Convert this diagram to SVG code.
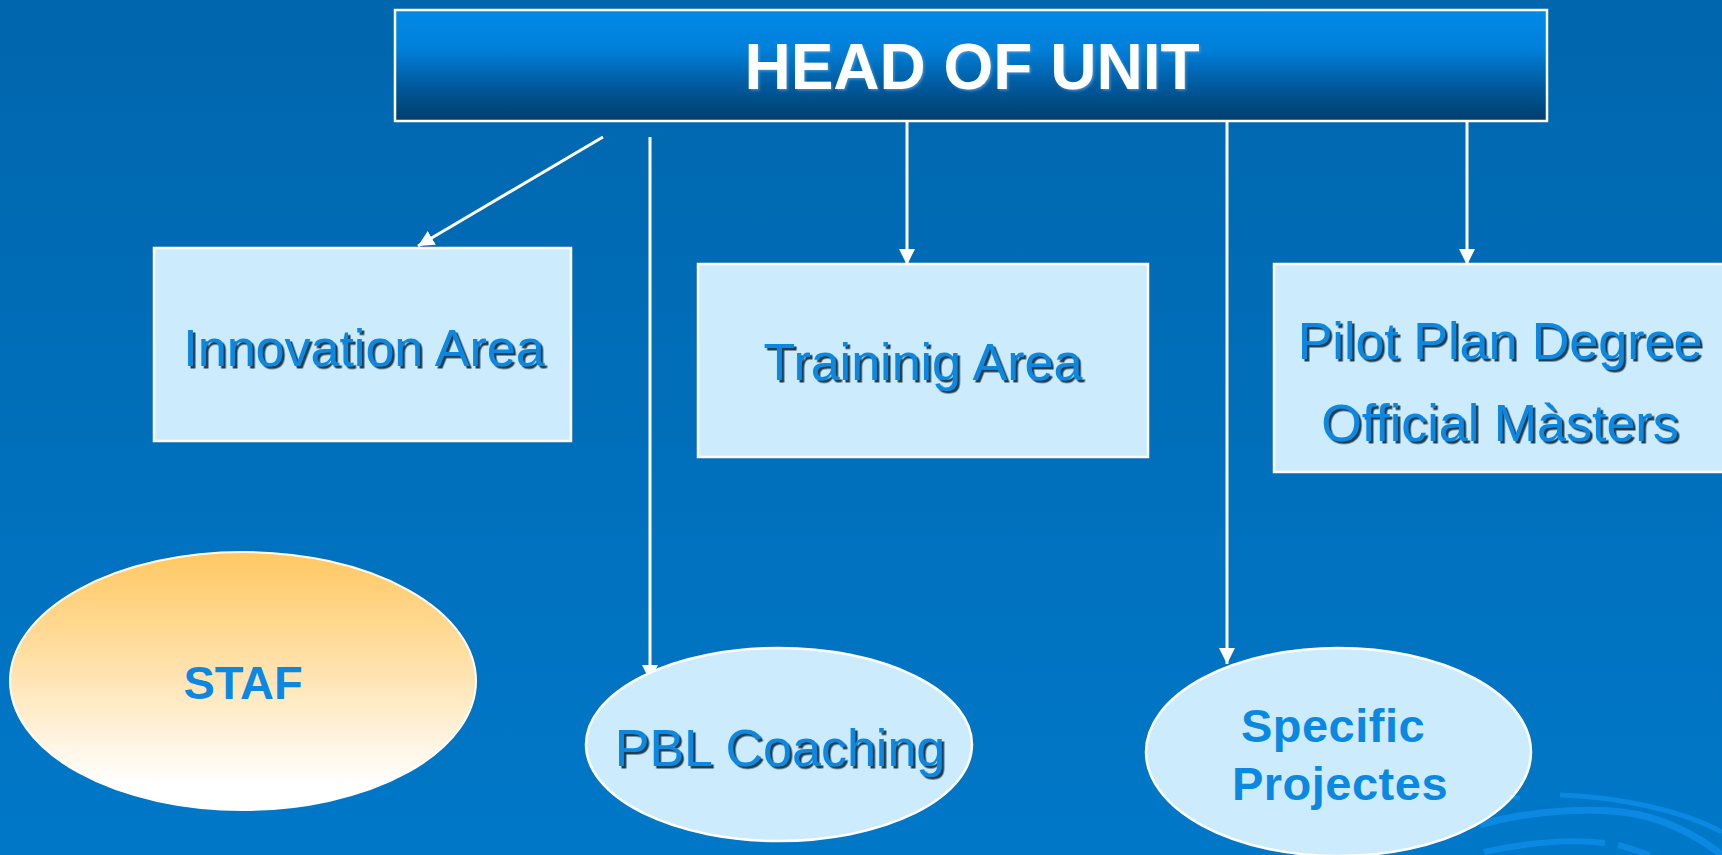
<svg xmlns="http://www.w3.org/2000/svg" width="1722" height="855" viewBox="0 0 1722 855">
  <defs>
    <linearGradient id="bg" x1="0" y1="0" x2="0" y2="1">
      <stop offset="0" stop-color="#0066AD"/>
      <stop offset="1" stop-color="#0078C8"/>
    </linearGradient>
    <linearGradient id="headGrad" x1="0" y1="0" x2="0" y2="1">
      <stop offset="0" stop-color="#008AE8"/>
      <stop offset="0.35" stop-color="#0080DA"/>
      <stop offset="0.7" stop-color="#00589A"/>
      <stop offset="1" stop-color="#003E6C"/>
    </linearGradient>
    <linearGradient id="stafGrad" x1="0" y1="0" x2="0" y2="1">
      <stop offset="0" stop-color="#FFC862"/>
      <stop offset="0.45" stop-color="#FFE2AC"/>
      <stop offset="0.9" stop-color="#FFFFFF"/>
      <stop offset="1" stop-color="#FFFFFF"/>
    </linearGradient>
    <filter id="shadow" x="-5%" y="-20%" width="110%" height="150%">
      <feDropShadow dx="2.5" dy="2.5" stdDeviation="0.7" flood-color="#001a30" flood-opacity="0.85"/>
    </filter>
    <filter id="shadowLight" x="-5%" y="-20%" width="110%" height="150%">
      <feDropShadow dx="1.5" dy="1.5" stdDeviation="0.8" flood-color="#5aa0d8" flood-opacity="0.7"/>
    </filter>
    <marker id="arrow" markerUnits="userSpaceOnUse" markerWidth="17" markerHeight="16" refX="16" refY="8" orient="auto">
      <path d="M0,0 L16,8 L0,16 Z" fill="#FFFFFF"/>
    </marker>
  </defs>
  <style>
    .box { fill: #CCECFD; stroke: #FFFFFF; stroke-width: 2.5; }
    .ell { fill: #CCECFD; stroke: #FFFFFF; stroke-width: 2.5; }
    .lbl { font-family: "Liberation Sans", Arial, sans-serif; font-size: 52px; fill: #0A88E2; text-anchor: middle; filter: url(#shadow); }
    .blbl { font-family: "Liberation Sans", Arial, sans-serif; font-weight: bold; fill: #0A88E2; text-anchor: middle; }
    .conn { stroke: #FFFFFF; stroke-width: 3; fill: none; marker-end: url(#arrow); }
    .deco { stroke: #0A88E2; fill: none; stroke-linecap: butt; }
  </style>

  <rect x="0" y="0" width="1722" height="855" fill="url(#bg)"/>

  <g id="decoration">
    <path class="deco" stroke-width="5" d="M1560,795 C1620,797 1680,810 1722,832"/>
    <path class="deco" stroke-width="7" d="M1480,825 C1530,810 1600,806 1640,815 C1675,823 1700,838 1722,855"/>
    <path class="deco" stroke-width="6" d="M1484,852 C1530,842 1570,839 1605,843"/>
    <path class="deco" stroke-width="6" d="M1618,845 C1630,848 1640,852 1650,855"/>
    <path class="deco" stroke-width="4" d="M1505,797 L1520,798"/>
  </g>

  <g id="connectors">
    <line class="conn" x1="603" y1="137" x2="418" y2="246"/>
    <line class="conn" x1="650" y1="137" x2="650" y2="681"/>
    <line class="conn" x1="907" y1="121" x2="907" y2="265"/>
    <line class="conn" x1="1227" y1="121" x2="1227" y2="664"/>
    <line class="conn" x1="1467" y1="121" x2="1467" y2="265"/>
  </g>

  <g id="head">
    <rect x="395" y="10" width="1152" height="111" fill="url(#headGrad)" stroke="#FFFFFF" stroke-width="2.5"/>
    <text x="972" y="89" class="blbl" font-size="64" style="fill:#FFFFFF; filter:url(#shadowLight)">HEAD OF UNIT</text>
  </g>

  <g id="innovation">
    <rect class="box" x="154" y="248" width="417" height="193"/>
    <text class="lbl" x="364" y="366">Innovation Area</text>
  </g>

  <g id="training">
    <rect class="box" x="698" y="264" width="450" height="193"/>
    <text class="lbl" x="923" y="380">Traininig Area</text>
  </g>

  <g id="pilot">
    <rect class="box" x="1274" y="264" width="460" height="208"/>
    <text class="lbl" x="1500" y="359">Pilot Plan Degree</text>
    <text class="lbl" x="1500" y="441">Official Màsters</text>
  </g>

  <g id="staf">
    <ellipse cx="243" cy="681" rx="233" ry="129" fill="url(#stafGrad)" stroke="#FFFFFF" stroke-width="2"/>
    <text class="blbl" x="243" y="699" font-size="47">STAF</text>
  </g>

  <g id="pbl">
    <ellipse class="ell" cx="779" cy="744.5" rx="193" ry="96.5"/>
    <text class="lbl" x="780" y="766">PBL Coaching</text>
  </g>

  <g id="specific">
    <ellipse class="ell" cx="1338.5" cy="752" rx="192.5" ry="104"/>
    <text class="blbl" x="1333" y="742" font-size="47" letter-spacing="0.5">Specific</text>
    <text class="blbl" x="1340" y="800" font-size="47" letter-spacing="0.5">Projectes</text>
  </g>
</svg>
